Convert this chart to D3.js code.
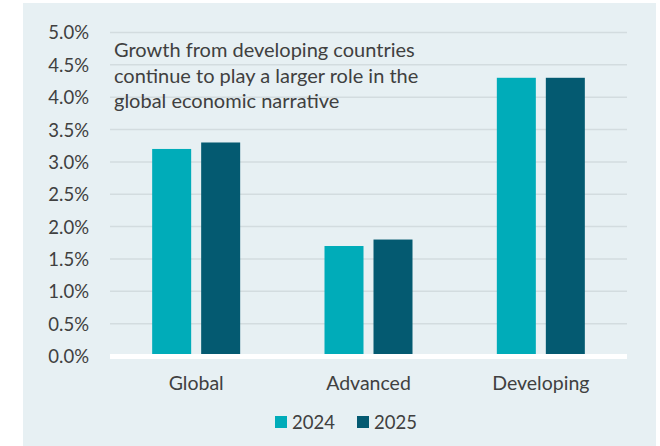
<!DOCTYPE html>
<html>
<head>
<meta charset="utf-8">
<script src="https://cdn.jsdelivr.net/npm/d3@7"></script>
<style>
  body { margin: 0; background: #fff; }
  text { font-family: Lato, "Open Sans", sans-serif; fill: #404040; }
</style>
</head>
<body>
<script>
// chart data
var categories = ["Global", "Advanced", "Developing"];
var seriesNames = ["2024", "2025"];
var values2024 = [3.2, 1.7, 4.3];
var values2025 = [3.3, 1.8, 4.3];
var yTicks = [0, 0.5, 1.0, 1.5, 2.0, 2.5, 3.0, 3.5, 4.0, 4.5, 5.0];
var note = ["Growth from developing countries",
            "continue to play a larger role in the",
            "global economic narrative"];

var colors = {"2024": "#00acb9", "2025": "#045a71"};

var W = 660, H = 446;
var svg = d3.select("body").append("svg").attr("width", W).attr("height", H);

// panel
svg.append("rect").attr("x", 23).attr("y", 3).attr("width", 633).attr("height", H)
  .attr("fill", "#e7f0f3");

var x = d3.scaleBand().domain(categories).range([110, 627]);
var y = d3.scaleLinear().domain([0, 5]).range([356, 32.5]);
var barW = 39, gap = 10;

// grid
svg.append("g").selectAll("line").data(yTicks.filter(d => d > 0)).join("line")
  .attr("x1", 110).attr("x2", 627)
  .attr("y1", d => y(d)).attr("y2", d => y(d))
  .attr("stroke", "#d3dcdf").attr("stroke-width", 1.5);

// y axis labels
var yAxis = d3.axisLeft(y).tickValues(yTicks).tickFormat(d => d3.format(".1f")(d) + "%").tickSize(0).tickPadding(21);
var ya = svg.append("g").attr("transform", "translate(110,0)").call(yAxis);
ya.select(".domain").remove();
ya.selectAll("text").style("font-size", "18.5px").attr("fill", "#404040").attr("dy", "0.35em")
  .style("font-family", "Lato, 'Open Sans', sans-serif");

// bars
var rows = categories.map((c, i) => ({cat: c, v: [values2024[i], values2025[i]]}));
var grp = svg.append("g").selectAll("g").data(rows).join("g");
grp.selectAll("rect").data(d => d.v.map((v, k) => ({cat: d.cat, v: v, s: seriesNames[k], k: k}))).join("rect")
  .attr("x", d => x(d.cat) + x.bandwidth() / 2 + (d.k === 0 ? -gap / 2 - barW : gap / 2))
  .attr("y", d => y(d.v))
  .attr("width", barW)
  .attr("height", d => y(0) - y(d.v))
  .attr("fill", d => colors[d.s]);

// baseline
svg.append("line").attr("x1", 110).attr("x2", 627).attr("y1", y(0) + 0.5).attr("y2", y(0) + 0.5)
  .attr("stroke", "#ffffff").attr("stroke-width", 5);

// x labels
svg.append("g").selectAll("text").data(categories).join("text")
  .attr("x", d => x(d) + x.bandwidth() / 2).attr("y", 390)
  .attr("text-anchor", "middle").style("font-size", "19.5px").text(d => d);

// annotation
svg.append("g").selectAll("text").data(note).join("text")
  .attr("x", 114).attr("y", (d, i) => 57 + i * 25.5)
  .style("font-size", "20px").text(d => d);

// legend
var leg = svg.append("g").selectAll("g").data(seriesNames).join("g")
  .attr("transform", (d, i) => "translate(" + (275 + i * 82) + ",416)");
leg.append("rect").attr("width", 12).attr("height", 12).attr("fill", d => colors[d]);
leg.append("text").attr("x", 17).attr("y", 12.5).style("font-size", "18.5px").text(d => d);
</script>
</body>
</html>
